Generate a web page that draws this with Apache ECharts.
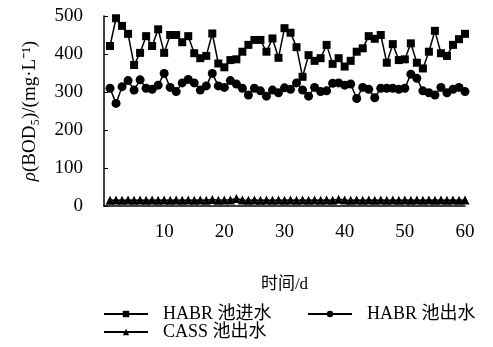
<!DOCTYPE html>
<html><head><meta charset="utf-8">
<script src="https://cdn.jsdelivr.net/npm/echarts@6/dist/echarts.min.js"></script>
<style>html,body{margin:0;padding:0;background:#fff}#c{width:493px;height:347px}</style>
</head><body><div id="c"></div>
<script>
const days = Array.from({length: 60}, (_, i) => i + 1);
const habrIn = [421,494,474,453,371,403,447,421,465,403,450,450,431,447,402,389,395,454,375,365,384,386,406,424,437,437,406,441,390,468,456,418,340,397,382,389,424,374,389,367,382,406,415,447,440,450,377,426,384,386,428,377,362,406,461,402,395,424,439,453];
const habrOut = [310,270,314,330,305,332,310,307,318,349,312,301,324,333,324,305,316,349,316,312,330,321,310,292,310,303,289,305,298,311,307,324,305,289,312,301,303,323,324,318,321,283,312,307,285,310,310,310,307,310,347,336,303,298,292,312,298,307,312,301];
const cassOut = [15,16,15,16,15,16,15,16,15,16,15,16,15,16,15,16,15,17,15,16,16,20,16,15,16,15,16,15,16,15,16,15,16,15,16,15,16,15,18,16,15,16,15,16,15,16,15,16,15,16,15,16,15,16,15,16,15,16,15,16];
const xTicks = [10,20,30,40,50,60];
const yTicks = [0,100,200,300,400,500];
const names = ['HABR 池进水','HABR 池出水','CASS 池出水'];

const serif = 'Liberation Serif, "Noto Sans CJK SC", serif';
const chart = echarts.init(document.getElementById('c'), null, {renderer:'canvas'});
const pair = arr => days.map((d,i)=>[d,arr[i]]);
const lg = (name, left, top) => ({
  data:[name], left:left, top:top, itemWidth:44, itemHeight:8, itemGap:10,
  textStyle:{fontFamily:serif, fontSize:18, color:'#000', padding:[0,0,0,10]}, padding:0
});
chart.setOption({
  animation:false,
  backgroundColor:'#fff',
  grid:{left:104, right:28, top:16, bottom:141},
  legend:[lg(names[0],103,305), lg(names[1],307,305), lg(names[2],103,323)],
  xAxis:{type:'value', min:0, max:60, interval:10,
    name:'时间/d', nameLocation:'middle', nameGap:70,
    nameTextStyle:{fontFamily:serif, fontSize:17, color:'#000'},
    axisLine:{lineStyle:{color:'#000', width:1.5}}, axisTick:{show:false},
    splitLine:{show:false},
    axisLabel:{margin:17, fontFamily:serif, fontSize:19, color:'#000',
      formatter:v=> xTicks.includes(v)? String(v):''}},
  yAxis:{type:'value', min:0, max:500, interval:100,
    name:'{i|ρ}(BOD₅)/(mg·L⁻¹)', nameLocation:'middle', nameGap:64, nameRotate:90,
    nameTextStyle:{fontFamily:serif, fontSize:19, color:'#000',
      rich:{i:{fontFamily:serif, fontStyle:'italic', fontSize:19, color:'#000'}}},
    axisLine:{show:true, lineStyle:{color:'#000', width:1.5}},
    axisTick:{show:true, inside:true, length:4, lineStyle:{color:'#000'}},
    splitLine:{show:false},
    axisLabel:{margin:21, fontFamily:serif, fontSize:19, color:'#000',
      formatter:v=> yTicks.includes(v)? String(v):''}},
  series:[
    {name:names[0], type:'line', data:pair(habrIn), symbol:'rect', symbolSize:8,
      lineStyle:{color:'#000', width:1.5}, itemStyle:{color:'#000'}},
    {name:names[1], type:'line', data:pair(habrOut), symbol:'circle', symbolSize:9,
      lineStyle:{color:'#000', width:1.5}, itemStyle:{color:'#000'}},
    {name:names[2], type:'line', data:pair(cassOut), symbol:'triangle', symbolSize:9,
      lineStyle:{color:'#000', width:1.5}, itemStyle:{color:'#000'}}
  ]
});
</script></body></html>
